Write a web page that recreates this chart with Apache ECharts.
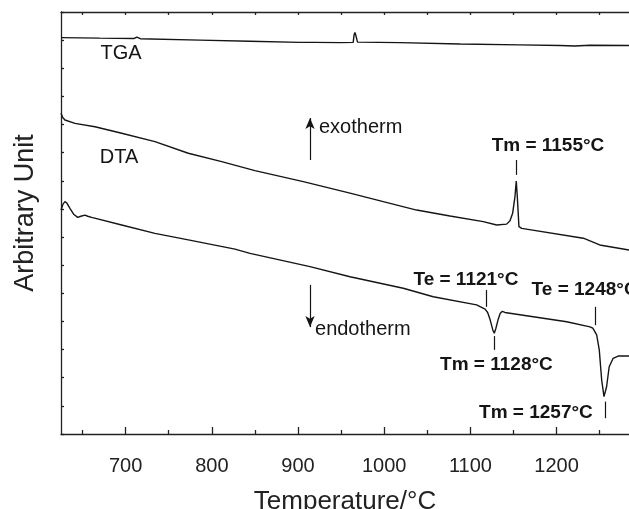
<!DOCTYPE html>
<html>
<head>
<meta charset="utf-8">
<script src="https://cdn.jsdelivr.net/npm/echarts@6/dist/echarts.min.js"></script>
<style>
  html, body { margin: 0; padding: 0; background: #fff; }
  #chart { width: 629px; height: 509px; }
</style>
</head>
<body>
<div id="chart"></div>
<script>
// temperature (°C) and signal (arbitrary units, axis 0..15)
const tgaT = [625, 670, 710, 713, 717, 786, 844, 902, 915, 917, 920, 949, 964, 965, 966, 967, 969, 1018, 1088, 1157, 1204, 1221, 1239, 1284];
const tgaV = [14.09, 14.07, 14.06, 14.11, 14.05, 14.00, 13.96, 13.92, 13.92, 13.99, 13.92, 13.91, 13.92, 14.18, 14.27, 14.18, 13.93, 13.91, 13.86, 13.83, 13.81, 13.79, 13.82, 13.81];

// cooling DTA, exothermic peak
const dtaCoolT = [625, 627, 629.6, 641.2, 664.4, 695.4, 734, 772.7, 811.4, 850, 906.1, 960.3, 998.9, 1037.6, 1076.3, 1114.9, 1130.5, 1142, 1145.9, 1149, 1151.7, 1153.2, 1154.4, 1156.3, 1159.5, 1231, 1250, 1284];
const dtaCoolV = [11.40, 11.25, 11.16, 11.04, 10.92, 10.69, 10.39, 9.98, 9.68, 9.36, 8.97, 8.56, 8.26, 7.96, 7.75, 7.55, 7.43, 7.46, 7.58, 7.85, 8.44, 8.99, 8.44, 7.37, 7.31, 6.96, 6.72, 6.54];

// heating DTA, two endothermic dips
const dtaHeatT = [625, 627.5, 629.6, 632, 635.4, 640, 644.4, 648, 652.8, 656, 660.6, 695.4, 734, 772.7, 826.9, 844.3, 913.9, 960.3, 1022.1, 1056.9, 1107.2, 1117, 1120, 1123, 1126, 1127.7, 1129.5, 1132, 1134.5, 1137, 1140, 1172.9, 1211.7, 1238.7, 1242, 1246.5, 1249.5, 1252.3, 1255, 1258, 1261, 1265.6, 1271.4, 1284];
const dtaHeatV = [7.96, 8.18, 8.26, 8.20, 8.02, 7.80, 7.70, 7.74, 7.78, 7.74, 7.70, 7.43, 7.13, 6.90, 6.57, 6.42, 5.95, 5.59, 5.18, 4.88, 4.59, 4.44, 4.32, 4.05, 3.70, 3.58, 3.75, 4.05, 4.28, 4.36, 4.32, 4.17, 3.99, 3.81, 3.76, 3.52, 2.99, 1.92, 1.33, 1.68, 2.39, 2.69, 2.77, 2.77];

const majorTicks = [700, 800, 900, 1000, 1100, 1200];
const minorTicks = [650, 750, 850, 950, 1050, 1150, 1250];
const topTicks = [650, 700, 750, 800, 850, 900, 950, 1000, 1050, 1100, 1150, 1200, 1250];

const ink = '#151515';
const fontFamily = '"Liberation Sans", Arial, sans-serif';

function zip(xs, ys) { return xs.map((x, i) => [x, ys[i]]); }

// little vertical markers and the two arrows, in data coordinates
function seg(x, y1, y2, arrow) {
    return [
        { coord: [x, y1], symbol: 'none' },
        arrow ? { coord: [x, y2], symbol: 'arrow', symbolSize: [7, 11] } : { coord: [x, y2], symbol: 'none' }
    ];
}

function note(x, y, text, bold, align) {
    return {
        coord: [x, y],
        label: {
            show: true,
            position: 'inside',
            formatter: text,
            align: align || 'center',
            verticalAlign: 'middle',
            color: ink,
            fontFamily: fontFamily,
            fontSize: bold ? 19 : 20,
            fontWeight: bold ? 'bold' : 'normal'
        }
    };
}

const chart = echarts.init(document.getElementById('chart'), null, { renderer: 'canvas' });

const axisLineStyle = { color: '#222', width: 1.3 };
const lineStyle = { color: ink, width: 1.4 };

chart.setOption({
    animation: false,
    backgroundColor: '#fff',
    grid: { left: 61, right: 0, top: 12, bottom: 75, containLabel: false, outerBoundsMode: 'none' },
    xAxis: [
        {
            type: 'value', position: 'bottom', min: 625, max: 1284,
            axisLine: { show: true, lineStyle: axisLineStyle },
            axisTick: { show: true, inside: true, length: 7, customValues: majorTicks, lineStyle: axisLineStyle },
            axisLabel: {
                show: true, customValues: majorTicks, margin: 22, fontSize: 20, color: '#222', fontFamily: fontFamily,
                formatter: v => String(v)
            },
            splitLine: { show: false },
            name: 'Temperature/\u00b0C', nameLocation: 'middle', nameGap: 55,
            nameTextStyle: { fontSize: 26, color: '#222', fontFamily: fontFamily }
        },
        {
            type: 'value', position: 'bottom', min: 625, max: 1284,
            axisLine: { show: false },
            axisTick: { show: true, inside: true, length: 4, customValues: minorTicks, lineStyle: axisLineStyle },
            axisLabel: { show: false },
            splitLine: { show: false }
        },
        {
            type: 'value', position: 'top', min: 625, max: 1284,
            axisLine: { show: true, lineStyle: axisLineStyle },
            axisTick: { show: true, inside: true, length: 3, customValues: topTicks, lineStyle: axisLineStyle },
            axisLabel: { show: false },
            splitLine: { show: false }
        }
    ],
    yAxis: {
        type: 'value', min: 0, max: 15, interval: 1,
        axisLine: { show: true, lineStyle: axisLineStyle },
        axisTick: { show: true, inside: true, length: 3, lineStyle: axisLineStyle },
        axisLabel: { show: false },
        splitLine: { show: false },
        name: 'Arbitrary Unit', nameLocation: 'middle', nameGap: 22,
        nameTextStyle: { fontSize: 27, color: '#222', fontFamily: fontFamily, padding: [0, 0, 0, 20] }
    },
    series: [
        {
            name: 'TGA', type: 'line', data: zip(tgaT, tgaV),
            showSymbol: false, lineStyle: lineStyle
        },
        {
            name: 'DTA cooling', type: 'line', data: zip(dtaCoolT, dtaCoolV),
            showSymbol: false, lineStyle: lineStyle
        },
        {
            name: 'DTA heating', type: 'line', data: zip(dtaHeatT, dtaHeatV),
            showSymbol: false, lineStyle: lineStyle,
            markLine: {
                silent: true, symbol: 'none', animation: false,
                label: { show: false },
                lineStyle: { color: ink, width: 1.2, type: 'solid' },
                data: [
                    seg(913.9, 9.74, 11.23, true),
                    seg(913.9, 5.30, 3.80, true),
                    seg(1152.8, 9.74, 9.21),
                    seg(1118, 5.12, 4.52),
                    seg(1245.3, 4.52, 3.87),
                    seg(1127.3, 3.48, 2.99),
                    seg(1256.9, 1.15, 0.56)
                ]
            },
            markPoint: {
                silent: true, symbol: 'circle', symbolSize: 1,
                itemStyle: { color: 'rgba(0,0,0,0)' },
                data: [
                    note(694.6, 13.54, 'TGA'),
                    note(692.3, 9.84, 'DTA'),
                    note(924.3, 10.88, 'exotherm', false, 'left'),
                    note(919.7, 3.73, 'endotherm', false, 'left'),
                    note(1190, 10.24, 'Tm = 1155\u00b0C', true),
                    note(1094.8, 5.47, 'Te = 1121\u00b0C', true),
                    note(1171, 5.12, 'Te = 1248\u00b0C', true, 'left'),
                    note(1130.2, 2.45, 'Tm = 1128\u00b0C', true),
                    note(1176, 0.74, 'Tm = 1257\u00b0C', true)
                ]
            }
        }
    ]
});
</script>
</body>
</html>
